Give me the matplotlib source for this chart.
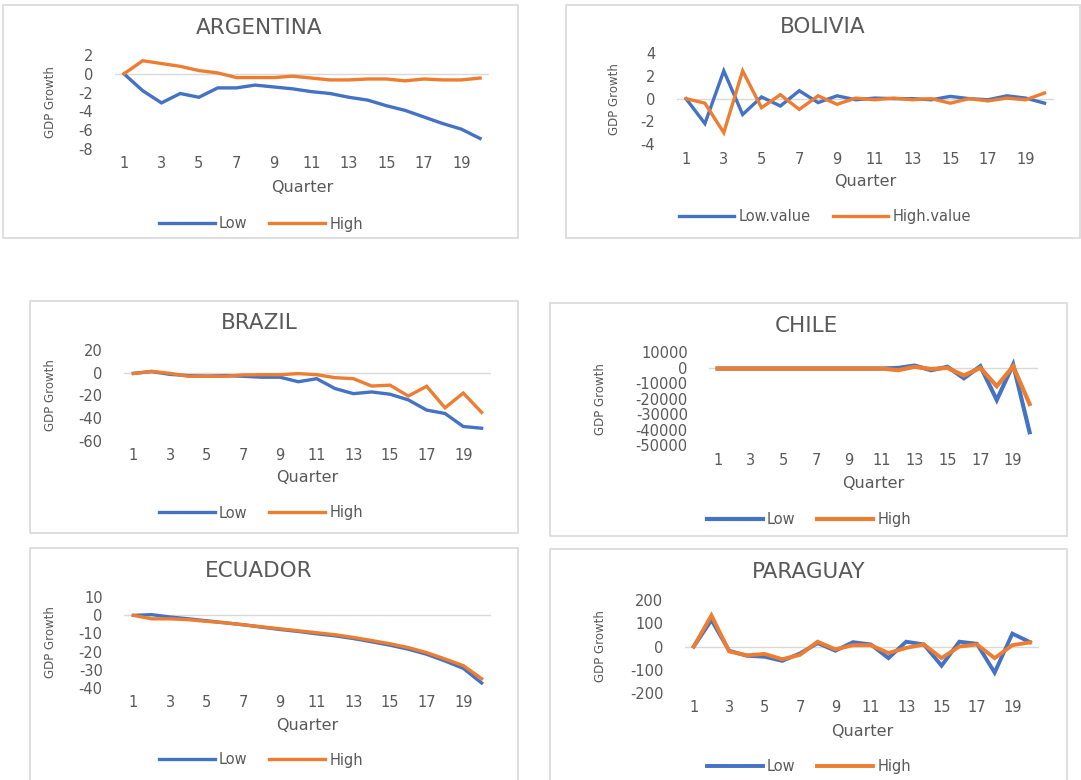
import matplotlib
matplotlib.use('Agg')
import matplotlib.pyplot as plt
from matplotlib.patches import Rectangle

plt.rcParams['font.family'] = 'DejaVu Sans'

W, H = 1081, 780

quarters = list(range(1, 21))
tick_quarters = list(range(1, 20, 2))

arg_low = [0, -1.8, -3.1, -2.1, -2.5, -1.5, -1.5, -1.2, -1.4, -1.6,
           -1.9, -2.1, -2.5, -2.8, -3.4, -3.9, -4.6, -5.3, -5.9, -6.9]
arg_high = [0, 1.4, 1.1, 0.8, 0.35, 0.1, -0.4, -0.4, -0.4, -0.25,
            -0.45, -0.65, -0.65, -0.55, -0.55, -0.75, -0.55, -0.65, -0.65, -0.45]

bol_low = [0, -2.2, 2.45, -1.4, 0.15, -0.65, 0.7, -0.35, 0.25, -0.1,
           0.05, 0, 0, -0.1, 0.2, 0, -0.1, 0.25, 0.05, -0.4]
bol_high = [0, -0.4, -3.0, 2.45, -0.8, 0.35, -0.95, 0.25, -0.5, 0.05,
            -0.1, 0.05, -0.1, 0, -0.4, 0, -0.2, 0.05, -0.1, 0.5]

bra_low = [-0.6, 1, -1.5, -2.6, -3, -2.6, -3.2, -4, -4, -8,
           -5.3, -14, -18.5, -17, -19, -24, -33, -36, -47.5, -49]
bra_high = [-0.8, 1.2, -0.6, -3.2, -3.2, -3.2, -2, -1.8, -1.8, -0.8,
            -1.8, -4.4, -5.3, -11.8, -11, -20.6, -12, -31, -18, -35]

chi_low = [-400, -400, -400, -400, -400, -400, -400, -400, -400, -400,
           -400, 0, 1500, -1500, 700, -6700, 1100, -20700, 2200, -41500]
chi_high = [-400, -400, -400, -400, -400, -400, -400, -400, -400, -400,
            -400, -1500, 700, -700, 0, -4900, 0, -11800, 1100, -23300]

ecu_low = [0, 0.4, -0.9, -1.9, -3, -4.1, -5.2, -6.5, -7.8, -8.9,
           -10.2, -11.3, -12.8, -14.6, -16.5, -18.7, -21.5, -25.2, -29.3, -37.4]
ecu_high = [0, -1.9, -1.9, -2.4, -3.3, -4.1, -5.2, -6.3, -7.4, -8.5,
            -9.6, -10.7, -12.2, -13.9, -15.7, -17.8, -20.6, -24.1, -27.8, -35]

par_low = [0, 115, -18, -40, -44, -62, -30, 15, -18, 19,
           9, -50, 21, 9, -83, 21, 12, -113, 56, 19]
par_high = [0, 135, -21, -38, -32, -55, -36, 21, -12, 6,
            6, -28, -6, 9, -50, 0, 9, -50, 6, 18]

blue = '#4472C4'
orange = '#ED7D31'
text_grey = '#595959'
border_grey = '#D9D9D9'

fig = plt.figure(figsize=(W / 100, H / 100), dpi=100)


def fx(x):
    return x / W


def fy(y):
    return 1 - y / H


def panel(title, low, high, yticks, box, plot, title_xy, ylab_x, qlab_y,
          leg_xy, labels=('Low', 'High'), lw=2.4):
    # chart border
    bl, bt, br, bb = box
    fig.patches.append(Rectangle((fx(bl), fy(bb)), fx(br - bl), (bb - bt) / H,
                                 transform=fig.transFigure, fill=False,
                                 edgecolor=border_grey, linewidth=1.2))
    pl, pr, pt, pb = plot
    ax = fig.add_axes([fx(pl), fy(pb), fx(pr - pl), (pb - pt) / H])
    ax.set_facecolor('none')
    ax.axhline(0, color=border_grey, linewidth=1.0, zorder=0)
    ax.plot(quarters, low, color=blue, linewidth=lw, label=labels[0],
            solid_joinstyle='miter')
    ax.plot(quarters, high, color=orange, linewidth=lw, label=labels[1],
            solid_joinstyle='miter')
    ax.set_xlim(0.5, 20.5)
    ax.set_ylim(yticks[-1], yticks[0])
    ax.set_yticks(yticks)
    ax.set_yticklabels([str(v) for v in yticks])
    ax.set_xticks(tick_quarters)
    ax.set_xticklabels([str(q) for q in tick_quarters])
    ax.tick_params(length=0, colors=text_grey, labelsize=10.5)
    ax.tick_params(axis='y', pad=15.5)
    ax.tick_params(axis='x', pad=5.5)
    for s in ax.spines.values():
        s.set_visible(False)

    fig.text(fx(title_xy[0]), fy(title_xy[1]), title, ha='center', va='center',
             fontsize=15.5, color=text_grey)
    fig.text(fx(ylab_x), fy((pt + pb) / 2), 'GDP Growth', rotation=90,
             ha='center', va='center', fontsize=8.5, color=text_grey)
    fig.text(fx((pl + pr) / 2), fy(qlab_y), 'Quarter', ha='center',
             va='center', fontsize=11.5, color=text_grey)
    ax.legend(loc='center', bbox_to_anchor=(fx(leg_xy[0]), fy(leg_xy[1])),
              bbox_transform=fig.transFigure, ncol=2, frameon=False,
              fontsize=10.5, handlelength=3.8, handletextpad=0.3,
              columnspacing=1.5, labelcolor=text_grey)
    return ax


panel('ARGENTINA', arg_low, arg_high, [2, 0, -2, -4, -6, -8],
      box=(3, 5, 518, 238), plot=(114.6, 489.4, 55.1, 148.8),
      title_xy=(259, 27.5), ylab_x=50, qlab_y=187.7,
      leg_xy=(261, 224))

panel('BOLIVIA', bol_low, bol_high, [4, 2, 0, -2, -4],
      box=(566, 5, 1080, 238), plot=(676.6, 1054, 53.3, 144),
      title_xy=(822.5, 26.7), ylab_x=615, qlab_y=181.7,
      leg_xy=(825, 216.7), labels=('Low.value', 'High.value'))

panel('BRAZIL', bra_low, bra_high, [20, 0, -20, -40, -60],
      box=(30, 301, 518, 533), plot=(124.2, 490.8, 350, 440.7),
      title_xy=(259.7, 323), ylab_x=50, qlab_y=477.7,
      leg_xy=(261, 513))

panel('CHILE', chi_low, chi_high,
      [10000, 0, -10000, -20000, -30000, -40000, -50000],
      box=(550, 303, 1067, 536), plot=(709.4, 1037.8, 352.4, 445.4),
      title_xy=(806.5, 325.8), ylab_x=600, qlab_y=483.7,
      leg_xy=(809, 519.6), lw=3.0)

panel('ECUADOR', ecu_low, ecu_high, [10, 0, -10, -20, -30, -40],
      box=(30, 548, 518, 795), plot=(124.2, 490.8, 597.3, 687.7),
      title_xy=(258.3, 571), ylab_x=50, qlab_y=725.7,
      leg_xy=(261, 760))

panel('PARAGUAY', par_low, par_high, [200, 100, 0, -100, -200],
      box=(550, 549, 1067, 795), plot=(684.9, 1038.9, 600.4, 692.7),
      title_xy=(808.2, 572.4), ylab_x=600, qlab_y=731.3,
      leg_xy=(809, 766.5), lw=2.8)

fig.savefig('out.png', dpi=100, facecolor='white')
